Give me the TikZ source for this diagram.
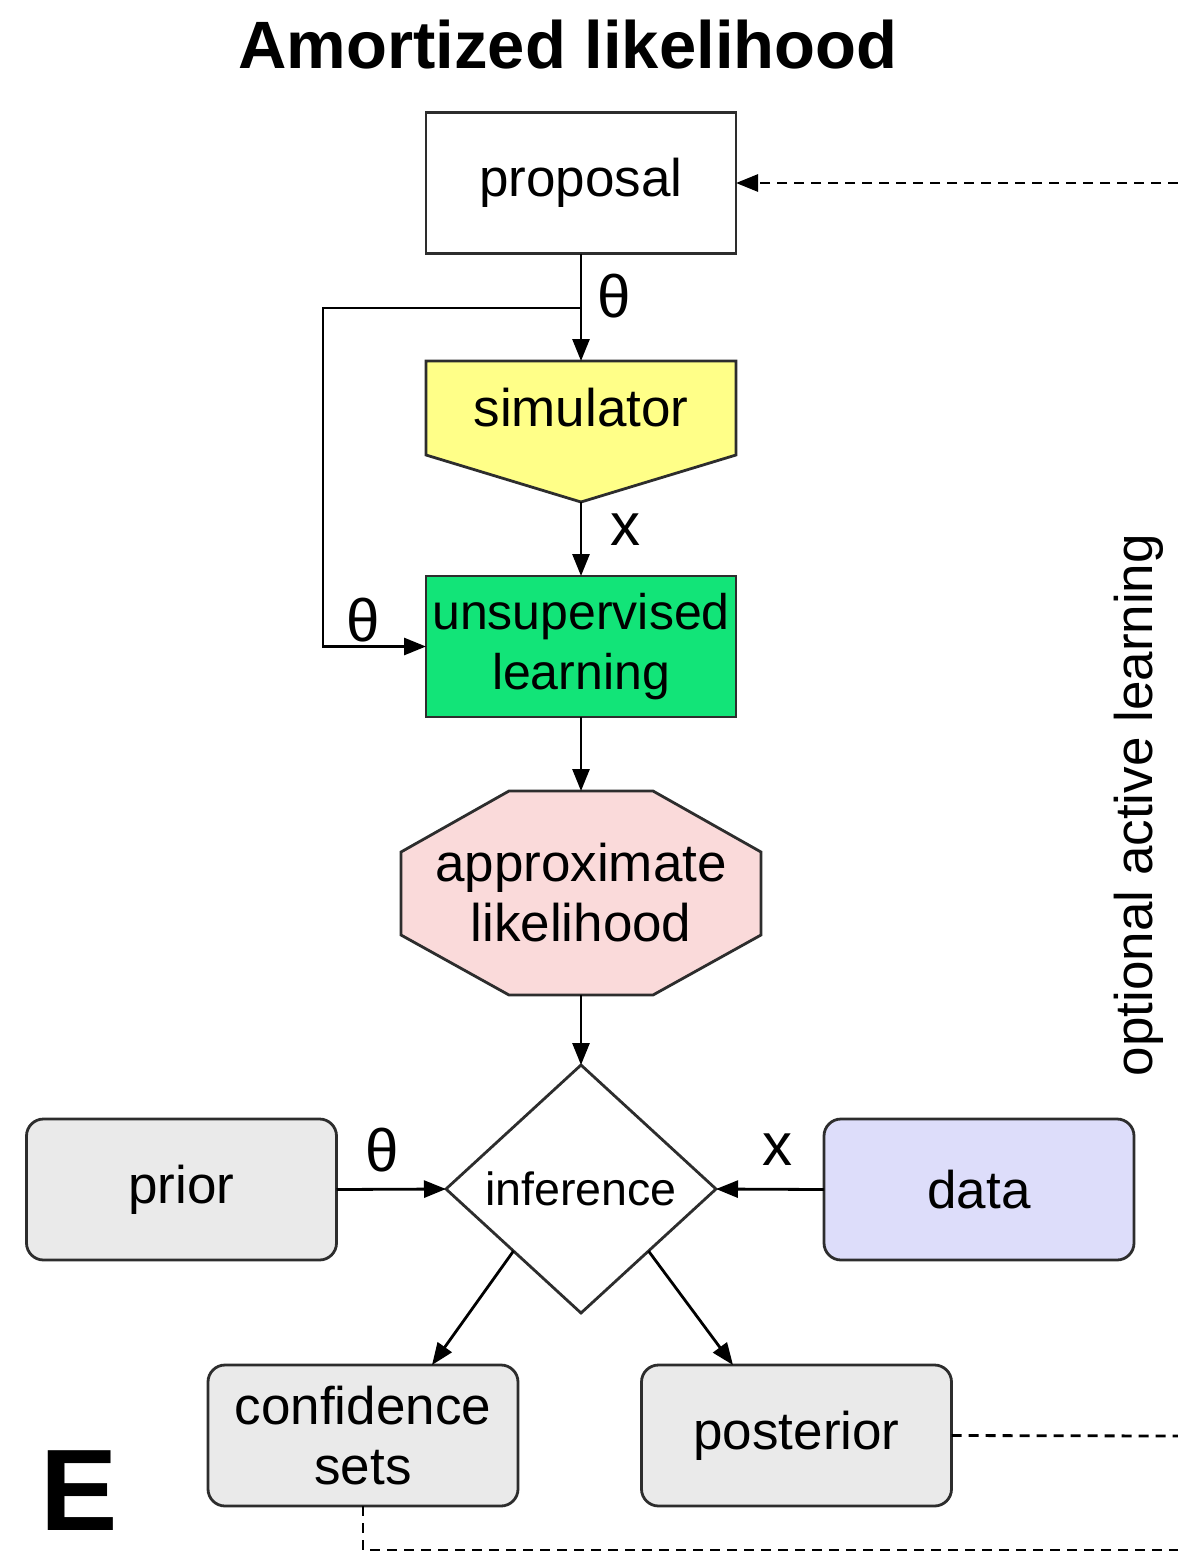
\documentclass[tikz,border=0pt]{standalone}
\usepackage{fontspec}
\setmainfont{Liberation Sans}
\usetikzlibrary{shapes.geometric,arrows.meta}
\definecolor{simyellow}{RGB}{255,255,136}
\definecolor{learngreen}{RGB}{18,228,120}
\definecolor{likepink}{RGB}{250,218,218}
\definecolor{boxgray}{RGB}{234,234,234}
\definecolor{datablue}{RGB}{221,221,250}
\definecolor{edge}{RGB}{45,45,45}

\begin{document}
\begin{tikzpicture}[x=0.5pt,y=-0.5pt,
  every node/.style={font=\fontsize{26.5}{30}\selectfont, text=black},
  box/.style={draw=edge, line width=1.4pt, minimum width=155pt, minimum height=70.5pt,
    inner sep=0pt, outer sep=0pt, align=center},
  roundbox/.style={box, rounded corners=8.5pt, fill=boxgray},
  tip/.style={-{Triangle[length=11pt,width=8.5pt]}},
  link/.style={draw=black, line width=1.4pt, tip},
  feedback/.style={draw=black, line width=1.4pt, dash pattern=on 5pt off 3.5pt},
  lbl/.style={font=\fontsize{30}{30}\selectfont, inner sep=0pt}
]
\useasboundingbox (0,0) rectangle (1178,1553);

% title and panel letter
\node[font=\bfseries\fontsize{33.5}{34}\selectfont, anchor=base] (title) at (568,68) {Amortized likelihood};
\node[font=\bfseries\fontsize{58}{58}\selectfont, anchor=base] (panel) at (79,1530) {E};

% proposal
\node[box, fill=white] (prop) at (581,183) {proposal};

% simulator (pentagon pointing down)
\path[draw=edge, fill=simyellow, line width=1.4pt]
  (426,361) -- (736,361) -- (736,455) -- (581,502) -- (426,455) -- cycle;
\node[inner sep=0pt, outer sep=0pt, minimum width=155pt, minimum height=47pt] (sim) at (581,408) {simulator};
\coordinate (simtip) at (581,502);

% unsupervised learning
\node[box, fill=learngreen, font=\fontsize{25}{30}\selectfont] (learn) at (581,646.5) {unsupervised\\learning};

% approximate likelihood (octagon)
\path[draw=edge, fill=likepink, line width=1.4pt]
  (509,791) -- (653,791) -- (761,852) -- (761,935) -- (653,995) -- (509,995)
  -- (401,935) -- (401,852) -- cycle;
\node[inner sep=0pt, outer sep=0pt, minimum width=180pt, minimum height=102pt, align=center]
  (approx) at (581,893) {approximate\\likelihood};

% inference diamond
\node[draw=edge, line width=1.4pt, fill=white, diamond, aspect=1.1, inner sep=0pt, outer sep=0pt,
  minimum width=135pt, minimum height=124pt, font=\fontsize{23.3}{28}\selectfont]
  (inf) at (581,1189) {inference};

% side inputs and outputs
\node[roundbox] (prior) at (181.5,1189.5) {prior};
\node[roundbox, fill=datablue] (data) at (979,1189.5) {data};
\node[roundbox] (conf) at (363,1435.5) {confidence\\sets};
\node[roundbox] (post) at (796.5,1435.5) {posterior};

% main flow
\coordinate (split) at (581,308);
\coordinate (bend) at (323,308);
\draw[link] (prop.south) -- (sim.north);
\draw[link] (split) -- (bend) |- (learn.west);
\draw[link] (simtip) -- (learn.north);
\draw[link] (learn.south) -- (approx.north);
\draw[link] (approx.south) -- (inf.north);
\draw[link] (prior.east) -- (inf.west);
\draw[link] (data.west) -- (inf.east);
\draw[link] (inf.south west) -- ([xshift=34.5pt]conf.north);
\draw[link] (inf.south east) -- ([xshift=-31.75pt]post.north);

% edge labels
\node[lbl] (th1) at (614,296) {θ};
\node[lbl] (th2) at (363,620) {θ};
\node[lbl] (x1) at (625,530) {x};
\node[lbl] (th3) at (382,1150) {θ};
\node[lbl] (x2) at (777,1150) {x};

% active-learning feedback
\coordinate (fbtop) at (1178,183);
\coordinate (fbmid) at (1178,1436);
\coordinate (fbbot) at (1178,1550);
\draw[feedback, tip] (fbtop) -- (prop.east);
\draw[feedback] (post.east) -- (fbmid);
\draw[feedback] (conf.south) |- (fbbot);
\node[rotate=90, inner sep=0pt] (al) at (1139,805) {optional active learning};
\end{tikzpicture}
\end{document}
